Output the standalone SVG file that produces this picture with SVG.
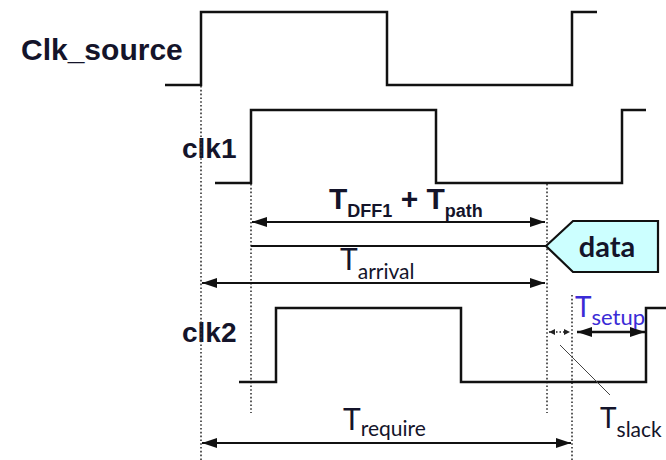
<svg xmlns="http://www.w3.org/2000/svg" width="666" height="460" viewBox="0 0 666 460">
  <defs>
    <marker id="head" markerUnits="userSpaceOnUse" markerWidth="16" markerHeight="12" refX="15" refY="5" orient="auto-start-reverse">
      <path d="M0,0 L15,5 L0,10 z" fill="#111"/>
    </marker>
    <marker id="headSmall" markerUnits="userSpaceOnUse" markerWidth="8" markerHeight="8" refX="6" refY="3" orient="auto-start-reverse">
      <path d="M0,0 L6,3 L0,6 z" fill="#222"/>
    </marker>
    <style>
      .wave { fill: none; stroke: #111; stroke-width: 2.5; stroke-linejoin: miter; }
      .guide { fill: none; stroke: #333; stroke-width: 1.6; stroke-dasharray: 1.6 2.2; }
      .dim { fill: none; stroke: #111; stroke-width: 2.2; }
      .sig { font-family: "Liberation Sans", Arial, sans-serif; font-weight: bold; fill: #14142a; }
      .lbl { font-family: Lato, "Open Sans", sans-serif; fill: #14142a; }
    </style>
  </defs>

  <rect width="666" height="460" fill="#fff"/>

  <!-- signal names -->
  <g id="label-clk-source"><text class="sig" x="21" y="60" font-size="30">Clk_source</text></g>
  <g id="label-clk1"><text class="sig" x="182" y="158" font-size="28">clk1</text></g>
  <g id="label-clk2"><text class="sig" x="182" y="342" font-size="28">clk2</text></g>

  <!-- vertical reference edges -->
  <g id="guides">
    <line class="guide" x1="201" y1="86" x2="201" y2="460"/>
    <line class="guide" x1="251" y1="184" x2="251" y2="413"/>
    <line class="guide" x1="547" y1="184" x2="547" y2="413"/>
    <line class="guide" x1="572" y1="295" x2="572" y2="460"/>
  </g>

  <!-- waveforms -->
  <g id="wave-clk-source"><path class="wave" d="M165,85 H201 V12 H387 V85 H572 V12 H597"/></g>
  <g id="wave-clk1"><path class="wave" d="M215,183 H251 V110 H436 V183 H622 V110 H646"/></g>
  <g id="wave-clk2"><path class="wave" d="M239,382 H276 V308 H461 V382 H646 V308 H666"/></g>

  <!-- data launch box -->
  <g id="data">
    <path d="M546,246 L573,221 H658 V272 H573 z" fill="#ccffff" stroke="#111" stroke-width="2.2"/>
    <text x="607" y="257" font-family="Lato, 'Open Sans', sans-serif" font-weight="bold" font-size="29" fill="#14142a" text-anchor="middle">data</text>
  </g>

  <!-- timing intervals -->
  <g id="connectors">
    <line class="dim" x1="252" y1="222" x2="545" y2="222" marker-start="url(#head)" marker-end="url(#head)"/>
    <line x1="251" y1="246" x2="546" y2="246" stroke="#111" stroke-width="1.8"/>
    <line class="dim" x1="202" y1="283" x2="545" y2="283" marker-start="url(#head)" marker-end="url(#head)"/>
    <line class="dim" x1="202" y1="443" x2="571" y2="443" marker-start="url(#head)" marker-end="url(#head)"/>
    <line x1="577" y1="332" x2="645" y2="332" stroke="#111" stroke-width="2.6" marker-start="url(#head)" marker-end="url(#head)"/>
    <line x1="549" y1="332" x2="570" y2="332" stroke="#222" stroke-width="1.4" stroke-dasharray="1.5 2" marker-start="url(#headSmall)" marker-end="url(#headSmall)"/>
    <line x1="560" y1="345" x2="610" y2="395" stroke="#444" stroke-width="1"/>
  </g>

  <!-- interval labels -->
  <g id="label-tdff1">
    <text class="sig" x="329" y="209" font-size="30">T<tspan font-size="18" dy="8">DFF1</tspan><tspan dy="-8"> + T</tspan><tspan font-size="18" dy="8">path</tspan></text>
  </g>
  <g id="label-tarrival">
    <text class="lbl" x="340" y="270" font-size="30">T<tspan font-size="21" dy="9">arrival</tspan></text>
  </g>
  <g id="label-trequire">
    <text class="lbl" x="343" y="430" font-size="30">T<tspan font-size="21" dy="6">require</tspan></text>
  </g>
  <g id="label-tsetup">
    <text x="575" y="317" font-family="Lato, 'Open Sans', sans-serif" font-size="28" fill="#3a2bd6">T<tspan font-size="22" dy="8">setup</tspan></text>
  </g>
  <g id="label-tslack">
    <text class="lbl" x="600" y="428" font-size="28">T<tspan font-size="21" dy="9">slack</tspan></text>
  </g>
</svg>
